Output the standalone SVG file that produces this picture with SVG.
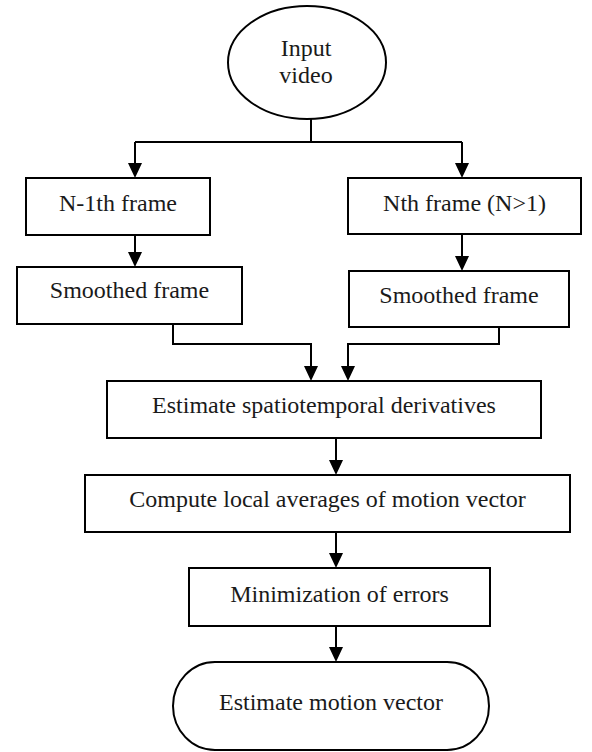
<svg xmlns="http://www.w3.org/2000/svg" width="592" height="752" viewBox="0 0 592 752">
<style>
.box{fill:#fff;stroke:#000;stroke-width:2}
.t{font-family:"Liberation Serif","Times New Roman",serif;font-size:24px;fill:#1a1a1a;text-anchor:middle}
.c{fill:none;stroke:#000;stroke-width:2}
</style>
<rect width="592" height="752" fill="#fff"/>
<g id="connectors">
<path class="c" d="M311,119 V142"/>
<path class="c" d="M135,142 H462"/>
<path class="c" d="M135,142 V163"/>
<polygon points="128,163 142,163 135,178"/>
<path class="c" d="M462,142 V163"/>
<polygon points="455,163 469,163 462,178"/>
<path class="c" d="M135,235 V252"/>
<polygon points="128,252 142,252 135,267"/>
<path class="c" d="M462,234 V256"/>
<polygon points="455,256 469,256 462,271"/>
<path class="c" d="M173,324 V344 H311 V366"/>
<polygon points="304,366 318,366 311,381"/>
<path class="c" d="M499,327 V344 H348 V366"/>
<polygon points="341,366 355,366 348,381"/>
<path class="c" d="M336,438 V460"/>
<polygon points="329,460 343,460 336,475"/>
<path class="c" d="M336,532 V553"/>
<polygon points="329,553 343,553 336,568"/>
<path class="c" d="M336,626 V647"/>
<polygon points="329,647 343,647 336,662"/>
</g>
<g id="input">
<ellipse class="box" cx="307" cy="62.5" rx="79" ry="56.5"/>
<text class="t" x="306" y="56">Input</text>
<text class="t" x="306" y="83">video</text>
</g>
<g id="frame_n1">
<rect class="box" x="26" y="178" width="184" height="57"/>
<text class="t" x="118" y="211">N-1th frame</text>
</g>
<g id="frame_n">
<rect class="box" x="348" y="178" width="233" height="56"/>
<text class="t" x="464.5" y="211">Nth frame (N&gt;1)</text>
</g>
<g id="smooth_left">
<rect class="box" x="17" y="267" width="225" height="57"/>
<text class="t" x="129.5" y="298">Smoothed frame</text>
</g>
<g id="smooth_right">
<rect class="box" x="349" y="271" width="220" height="56"/>
<text class="t" x="459" y="303">Smoothed frame</text>
</g>
<g id="derivatives">
<rect class="box" x="107" y="381" width="434" height="57"/>
<text class="t" x="324" y="413">Estimate spatiotemporal derivatives</text>
</g>
<g id="averages">
<rect class="box" x="85" y="475" width="485" height="57"/>
<text class="t" x="327.5" y="507">Compute local averages of motion vector</text>
</g>
<g id="minimization">
<rect class="box" x="189" y="568" width="301" height="58"/>
<text class="t" x="339.5" y="602">Minimization of errors</text>
</g>
<g id="output">
<rect class="box" x="173" y="662" width="316" height="88" rx="42" ry="44"/>
<text class="t" x="331" y="710">Estimate motion vector</text>
</g>
</svg>
